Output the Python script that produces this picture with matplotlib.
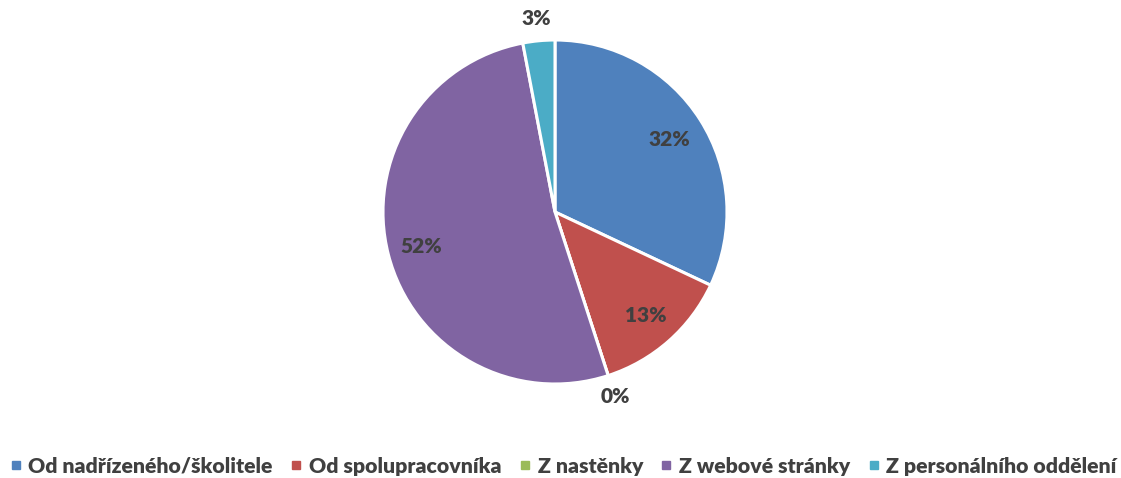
import numpy as np
import matplotlib
matplotlib.use("Agg")
import matplotlib.pyplot as plt
from matplotlib.lines import Line2D

categories = ["Od nadřízeného/školitele", "Od spolupracovníka", "Z nastěnky",
              "Z webové stránky", "Z personálního oddělení"]
values = [32, 13, 0, 52, 3]
labels = ["32%", "13%", "0%", "52%", "3%"]
colors = ["#4F81BD", "#C0504D", "#9BBB59", "#8064A2", "#4BACC6"]
label_dist = [0.79, 0.80, 1.13, 0.80, 1.13]

W, H = 1121, 478
fig = plt.figure(figsize=(W / 100, H / 100), dpi=100)
fig.patch.set_facecolor("white")

cx, cy, r = 555, 212, 172
ax = fig.add_axes([(cx - r) / W, 1 - (cy + r) / H, 2 * r / W, 2 * r / H])
wedges, _ = ax.pie(values, colors=colors, startangle=90, counterclock=False,
                   radius=1, wedgeprops=dict(edgecolor="white", linewidth=2.2))
ax.set_xlim(-1, 1)
ax.set_ylim(-1, 1)
ax.set_aspect("equal")
ax.axis("off")

font = "Lato"
for w, lab, d in zip(wedges, labels, label_dist):
    ang = np.deg2rad((w.theta1 + w.theta2) / 2)
    ax.text(d * np.cos(ang), d * np.sin(ang), lab, ha="center", va="center",
            fontsize=15, fontweight="heavy", color="#404040", family=font,
            clip_on=False)

handles = [Line2D([0], [0], marker="s", linestyle="none", markersize=6,
                  markerfacecolor=c, markeredgecolor=c) for c in colors]
fig.legend(handles, categories, loc="center", bbox_to_anchor=(563 / W, 1 - 466 / H),
           ncol=5, frameon=False, handlelength=0.6, handletextpad=0.3,
           columnspacing=0.8, prop=dict(family=font, weight="heavy", size=15.3),
           labelcolor="#404040")

fig.savefig("out.png", dpi=100, facecolor="white")
